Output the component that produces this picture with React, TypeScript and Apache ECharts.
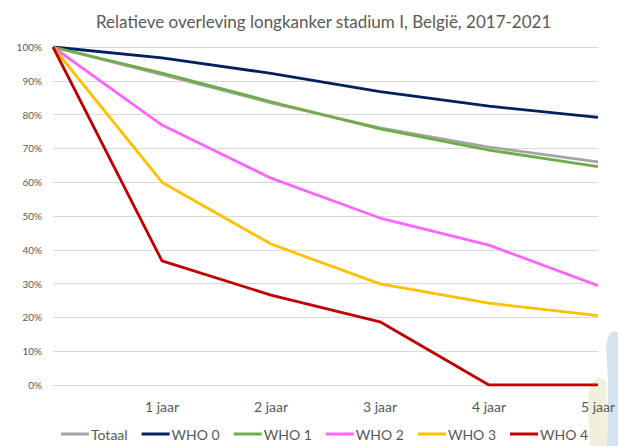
import React, { useEffect, useRef } from "react";
import * as echarts from "echarts";

const categories = ["", "1 jaar", "2 jaar", "3 jaar", "4 jaar", "5 jaar"];
const seriesNames = ["Totaal", "WHO 0", "WHO 1", "WHO 2", "WHO 3", "WHO 4"];
const totaal = [100, 91.8, 83.5, 76.1, 70.4, 66.0];
const who0 = [100, 96.8, 92.2, 86.8, 82.5, 79.2];
const who1 = [100, 92.3, 83.8, 75.8, 69.5, 64.6];
const who2 = [100, 76.9, 61.2, 49.4, 41.4, 29.4];
const who3 = [100, 60.0, 41.7, 29.9, 24.2, 20.5];
const who4 = [100, 36.7, 26.6, 18.7, 0, 0];
const colors = ["#A5A5A5", "#002060", "#70AD47", "#FF66FF", "#FFC000", "#C00000"];
const yTicks = [0, 10, 20, 30, 40, 50, 60, 70, 80, 90, 100];

export default function App() {
  const ref = useRef<HTMLDivElement>(null);
  useEffect(() => {
    if (!ref.current) return;
    const chart = echarts.init(ref.current, null, { renderer: "svg" });
    const data = [totaal, who0, who1, who2, who3, who4];
    chart.setOption({
      animation: false,
      backgroundColor: "#ffffff",
      title: {
        text: "Relatieve overleving longkanker stadium I, België, 2017-2021",
        left: 91,
        top: 8,
        textStyle: {
          fontFamily: "Lato",
          fontSize: 17,
          fontWeight: "normal",
          color: "#595959",
        },
      },
      grid: { left: 53, right: 16, top: 47, bottom: 61, containLabel: false },
      legend: {
        bottom: 0,
        left: 56,
        icon: "rect",
        itemWidth: 28,
        itemHeight: 3,
        itemGap: 14,
        data: seriesNames,
        textStyle: { fontFamily: "Lato", fontSize: 14, color: "#595959", padding: [0, 0, 0, -3] },
      },
      xAxis: {
        type: "category",
        data: categories,
        boundaryGap: false,
        axisLine: { show: true, lineStyle: { color: "#D9D9D9", width: 1 } },
        axisTick: { show: false },
        axisLabel: {
          fontFamily: "Lato",
          fontSize: 14,
          color: "#595959",
          margin: 14,
          interval: 0,
        },
        splitLine: { show: false },
      },
      yAxis: {
        type: "value",
        min: 0,
        max: 100,
        interval: 10,
        axisLine: { show: false },
        axisTick: { show: false },
        axisLabel: {
          fontFamily: "Lato",
          fontSize: 10,
          color: "#595959",
          margin: 11,
          formatter: (v: number) => (yTicks.includes(v) ? v + "%" : ""),
        },
        splitLine: { show: true, lineStyle: { color: "#D9D9D9", width: 1 } },
      },
      series: seriesNames.map((name, i) => ({
        name,
        type: "line",
        data: data[i],
        symbol: "none",
        color: colors[i],
        lineStyle: { width: 2.8, color: colors[i] },
      })),
      graphic: [
        {
          type: "polygon",
          silent: true,
          z: -1,
          shape: {
            points: [
              [590, 446], [588, 400], [590, 384], [598, 378], [606, 380], [607, 446],
            ],
          },
          style: { fill: "#F1F0DC" },
        },
        {
          type: "polygon",
          silent: true,
          z: -1,
          shape: {
            points: [
              [607, 446], [608, 380], [606, 345], [609, 334], [614, 331], [618, 332], [618, 446],
            ],
          },
          style: { fill: "#D3E3F0" },
        },
      ],
    });
    return () => chart.dispose();
  }, []);
  return (
    <div
      ref={ref}
      style={{ position: "fixed", left: 0, top: 0, width: 618, height: 446 }}
    />
  );
}
